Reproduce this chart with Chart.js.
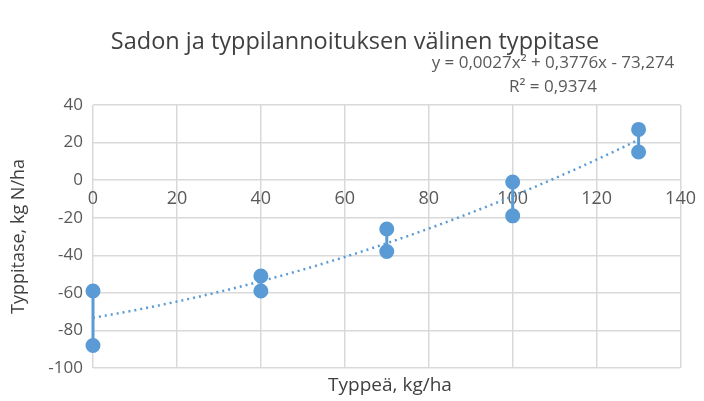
<!DOCTYPE html>
<html>
<head>
<meta charset="utf-8">
<script src="https://cdn.jsdelivr.net/npm/chart.js@4/dist/chart.umd.min.js"></script>
<style>
  body { margin: 0; background: #fff; }
  #wrap { width: 704px; height: 401px; position: relative; }
</style>
</head>
<body>
<div id="wrap"><canvas id="thecanvas" width="704" height="401"></canvas></div>
<script>
// values
const xvals = [0, 40, 70, 100, 130];
const yhigh = [-59, -51, -26, -1, 27];
const ylow = [-88, -59, -38, -19, 15];
// trendline y = a*x^2 + b*x + c, as shown on the chart
const trendcoef = [0.0027, 0.3776, -73.274];
const trendtext = ['y = 0,0027x² + 0,3776x - 73,274', 'R² = 0,9374'];
const xrange = [0, 140];
const yrange = [-100, 40];

const blue = '#5b9bd5';
const txtcolor = '#595959';
const fontname = "'Open Sans', 'Liberation Sans', sans-serif";

// one small dataset per x so only the pair at the same x is joined
const sets = [];
for (let i = 0; i < xvals.length; i++) {
    sets.push({
        data: [{x: xvals[i], y: yhigh[i]}, {x: xvals[i], y: ylow[i]}],
        showLine: true,
        borderColor: blue,
        backgroundColor: blue,
        borderWidth: 3,
        pointRadius: 6,
        pointHoverRadius: 6,
        clip: false
    });
}

const trend = [];
for (let x = 0; x <= 130; x += 5) {
    trend.push({x: x, y: trendcoef[0] * x * x + trendcoef[1] * x + trendcoef[2]});
}
sets.push({
    data: trend,
    showLine: true,
    borderColor: blue,
    borderWidth: 2.5,
    borderDash: [2, 4],
    pointRadius: 0
});

const extratext = {
    id: 'extratext',
    afterDraw(chart) {
        const c = chart.ctx;
        c.save();
        c.fillStyle = '#404040';
        c.textAlign = 'center';
        c.textBaseline = 'middle';
        c.font = '23.5px ' + fontname;
        c.fillText('Sadon ja typpilannoituksen välinen typpitase', 355, 42);
        c.fillStyle = txtcolor;
        c.font = '17px ' + fontname;
        c.fillText(trendtext[0], 553, 63);
        c.fillText(trendtext[1], 553, 87);
        c.fillStyle = '#404040';
        c.font = '19px ' + fontname;
        c.fillText('Typpeä, kg/ha', 390, 386);
        c.restore();
    }
};

new Chart(document.getElementById('thecanvas'), {
    type: 'scatter',
    data: {datasets: sets},
    options: {
        responsive: false,
        animation: false,
        layout: {padding: {top: 105, left: 6, right: 18, bottom: 33}},
        plugins: {legend: {display: false}, tooltip: {enabled: false}},
        scales: {
            x: {
                min: xrange[0], max: xrange[1],
                position: {y: 0},
                ticks: {stepSize: 20, color: txtcolor, font: {size: 18, family: fontname}, padding: 8, maxRotation: 0},
                grid: {color: '#d9d9d9', lineWidth: 1.5, drawTicks: false},
                border: {display: false}
            },
            y: {
                min: yrange[0], max: yrange[1],
                ticks: {stepSize: 20, color: txtcolor, font: {size: 17, family: fontname}, padding: 10},
                grid: {color: '#d9d9d9', lineWidth: 1.5, drawTicks: false},
                border: {display: false},
                title: {display: true, text: 'Typpitase, kg N/ha', color: '#404040', font: {size: 18, family: fontname}, padding: 2},
                afterFit(scale) { scale.width = 87; }
            }
        }
    },
    plugins: [extratext]
});
</script>
</body>
</html>
